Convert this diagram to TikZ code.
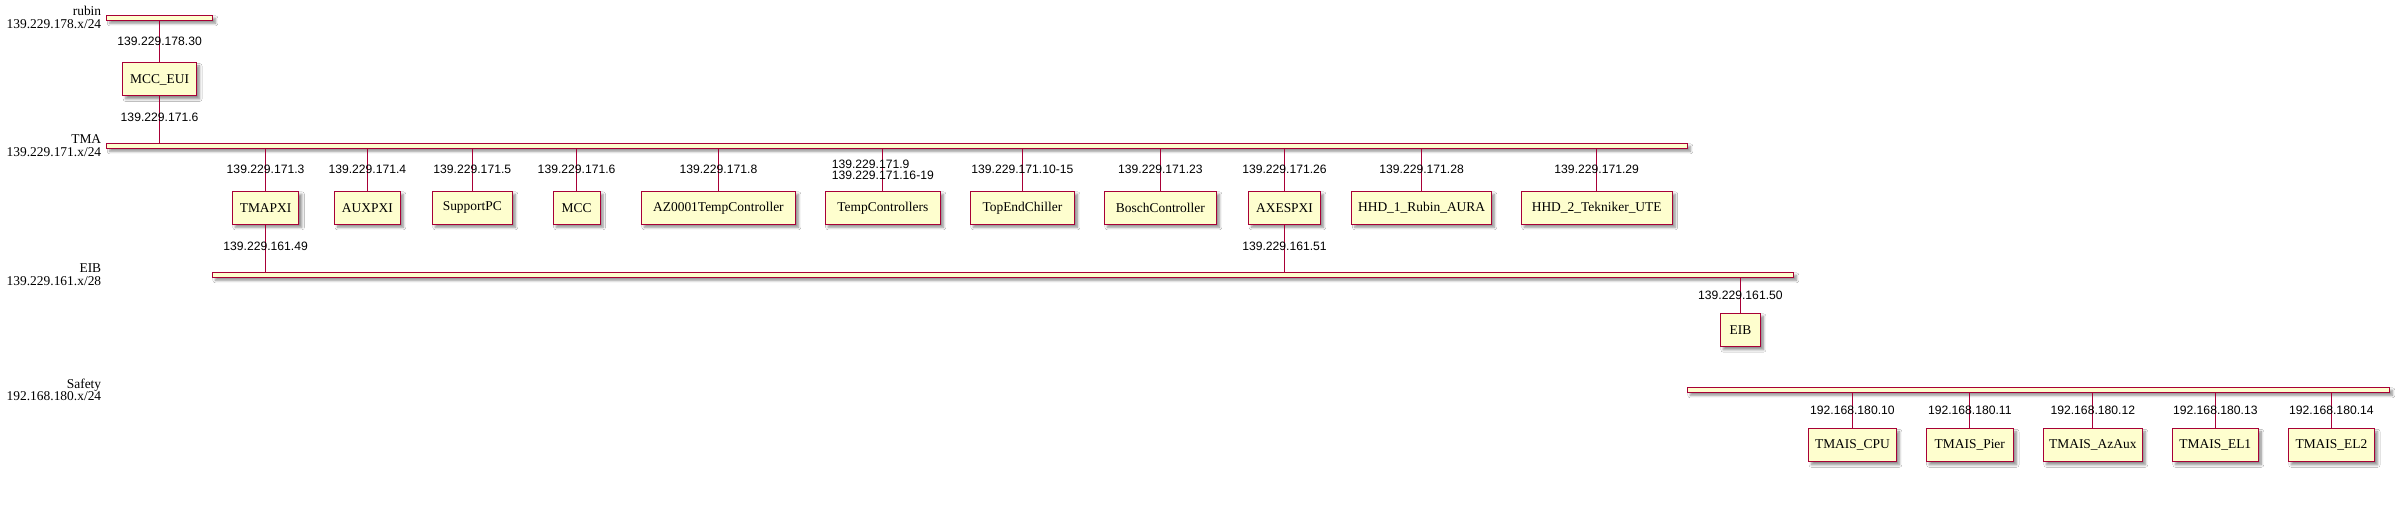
\documentclass[tikz,border=0pt]{standalone}
\usepackage{fontspec}
\setmainfont{Liberation Serif}
\newfontfamily\ipfont{Liberation Sans}
\usetikzlibrary{shadows.blur}
\definecolor{umlred}{HTML}{A80036}
\definecolor{umlfill}{HTML}{FEFECE}
\tikzset{
 sh/.style={blur shadow={shadow xshift=3bp,shadow yshift=-3bp,shadow blur radius=2.5bp,shadow blur steps=6,shadow opacity=45}},
 dev/.style={draw=umlred,fill=umlfill,line width=1bp,rectangle,inner sep=0pt,minimum height=33bp,font=\fontsize{13.5}{13}\selectfont,sh},
 netbar/.style={draw=umlred,fill=umlfill,line width=1bp,rectangle,inner sep=0pt,minimum height=5bp,sh},
 link/.style={draw=umlred,line width=1bp},
 ip/.style={font=\ipfont\fontsize{12.2}{12}\selectfont,inner sep=0pt,align=left,text=black},
 netlbl/.style={font=\fontsize{13.5}{12.8}\selectfont,inner sep=0pt,align=right,anchor=east},
}
\begin{document}
\begin{tikzpicture}[x=1bp,y=-1bp]
\useasboundingbox[fill=white] (0,0) rectangle (2396,510);
% network labels
\node[netlbl] (lrubin) at (101.4,17.8) {rubin\\139.229.178.x/24};
\node[netlbl] (ltma) at (101.4,145.8) {TMA\\139.229.171.x/24};
\node[netlbl] (leib) at (101.4,274.8) {EIB\\139.229.161.x/28};
\node[netlbl] (lsafety) at (101.4,389.8) {Safety\\192.168.180.x/24};
% network bars
\node[netbar,minimum width=105.6bp] (rubin) at (159.6,17.8) {};
\node[netbar,minimum width=1580.5bp] (tma) at (897.05,145.8) {};
\node[netbar,minimum width=1580.9bp] (eibnet) at (1002.85,274.8) {};
\node[netbar,minimum width=702bp] (safety) at (2038.3,389.8) {};
% devices
\node[dev,minimum width=73.8bp] (mcceui) at (159.6,79.5) {MCC\_EUI};
\node[dev,minimum width=66.6bp] (tmapxi) at (265.6,207.8) {TMAPXI};
\node[dev,minimum width=65.8bp] (auxpxi) at (367.4,207.8) {AUXPXI};
\node[dev,minimum width=80bp] (supportpc) at (472.3,207.8) {SupportPC};
\node[dev,minimum width=46.8bp] (mcc) at (576.6,207.8) {MCC};
\node[dev,minimum width=154bp] (az) at (718.4,207.8) {AZ0001TempController};
\node[dev,minimum width=115.2bp] (tempc) at (882.8,207.8) {TempControllers};
\node[dev,minimum width=104.1bp] (chiller) at (1022.4,207.8) {TopEndChiller};
\node[dev,minimum width=112bp] (bosch) at (1160.4,207.8) {BoschController};
\node[dev,minimum width=71.8bp] (axespxi) at (1284.5,207.8) {AXESPXI};
\node[dev,minimum width=139.3bp] (hhda) at (1421.6,207.8) {HHD\_1\_Rubin\_AURA};
\node[dev,minimum width=150.9bp] (hhdb) at (1596.7,207.8) {HHD\_2\_Tekniker\_UTE};
\node[dev,minimum width=40.1bp,minimum height=33.4bp] (eibdev) at (1740.4,330) {EIB};
\node[dev,minimum width=87.8bp] (cpu) at (1852.4,445.3) {TMAIS\_CPU};
\node[dev,minimum width=87.3bp] (pier) at (1969.8,445.3) {TMAIS\_Pier};
\node[dev,minimum width=98.9bp] (azaux) at (2092.8,445.3) {TMAIS\_AzAux};
\node[dev,minimum width=85.8bp] (elone) at (2215.3,445.3) {TMAIS\_EL1};
\node[dev,minimum width=86.3bp] (eltwo) at (2331.4,445.3) {TMAIS\_EL2};
% links
\draw[link] (rubin.south -| mcceui.north) -- node[ip]{139.229.178.30} (mcceui.north);
\draw[link] (mcceui.south) -- node[ip,pos=0.45]{139.229.171.6} (mcceui.south |- tma.north);
\draw[link] (tma.south -| tmapxi.north) -- node[ip]{139.229.171.3} (tmapxi.north);
\draw[link] (tma.south -| auxpxi.north) -- node[ip]{139.229.171.4} (auxpxi.north);
\draw[link] (tma.south -| supportpc.north) -- node[ip]{139.229.171.5} (supportpc.north);
\draw[link] (tma.south -| mcc.north) -- node[ip]{139.229.171.6} (mcc.north);
\draw[link] (tma.south -| az.north) -- node[ip]{139.229.171.8} (az.north);
\draw[link] (tma.south -| tempc.north) -- node[ip]{139.229.171.9\\139.229.171.16-19} (tempc.north);
\draw[link] (tma.south -| chiller.north) -- node[ip]{139.229.171.10-15} (chiller.north);
\draw[link] (tma.south -| bosch.north) -- node[ip]{139.229.171.23} (bosch.north);
\draw[link] (tma.south -| axespxi.north) -- node[ip]{139.229.171.26} (axespxi.north);
\draw[link] (tma.south -| hhda.north) -- node[ip]{139.229.171.28} (hhda.north);
\draw[link] (tma.south -| hhdb.north) -- node[ip]{139.229.171.29} (hhdb.north);
\draw[link] (tmapxi.south) -- node[ip,pos=0.46]{139.229.161.49} (tmapxi.south |- eibnet.north);
\draw[link] (axespxi.south) -- node[ip,pos=0.45]{139.229.161.51} (axespxi.south |- eibnet.north);
\draw[link] (eibnet.south -| eibdev.north) -- node[ip]{139.229.161.50} (eibdev.north);
\draw[link] (safety.south -| cpu.north) -- node[ip]{192.168.180.10} (cpu.north);
\draw[link] (safety.south -| pier.north) -- node[ip]{192.168.180.11} (pier.north);
\draw[link] (safety.south -| azaux.north) -- node[ip]{192.168.180.12} (azaux.north);
\draw[link] (safety.south -| elone.north) -- node[ip]{192.168.180.13} (elone.north);
\draw[link] (safety.south -| eltwo.north) -- node[ip]{192.168.180.14} (eltwo.north);
\end{tikzpicture}
\end{document}
